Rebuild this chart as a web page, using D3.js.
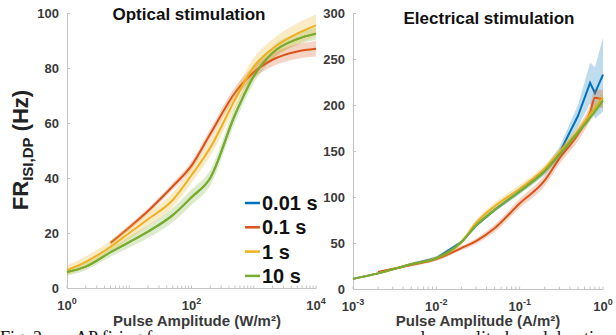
<!DOCTYPE html>
<html>
<head>
<meta charset="utf-8">
<script src="https://d3js.org/d3.v7.min.js"></script>
<style>
body { margin: 0; background: #fff; }
svg { display: block; font-family: 'Liberation Sans', Arial, sans-serif; }
.axis path, .axis line { stroke: #c4c4c4; }
.axis text { fill: #3a3a3a; font-weight: bold; font-size: 13px; }
</style>
</head>
<body>
<svg width="616" height="335"></svg>
<script>

// optical stimulation (W/m2)
var optX = [1, 2, 5, 10, 20, 50, 100, 200, 500, 1000, 2000, 5000, 10000];
var optGreen  = [5.8, 7.8, 13, 16.7, 20.5, 26.5, 33, 40, 63, 77, 85.5, 90.5, 92.5];
var optGreenE = [1.2, 1.3, 1.6, 2, 2.3, 2.6, 2.8, 2.8, 2.8, 2.5, 2.3, 2.2, 2.2];
var optYellow  = [6.5, 9.5, 15, 20, 25, 32, 41, 51, 68.5, 80.5, 87, 92.5, 95.5];
var optYellowE = [1.8, 2, 2.2, 2.3, 2.4, 2.6, 2.8, 3, 3, 3.2, 3.5, 3.8, 4];
var optOrangeX = [5, 10, 20, 50, 100, 200, 500, 1000, 2000, 5000, 10000];
var optOrange  = [16.4, 22, 28, 37, 44.5, 56, 71, 78.5, 83, 86, 87];
var optOrangeE = [0.8, 1, 1, 1.2, 1.5, 1.8, 2, 2.2, 2.4, 2.6, 2.8];

// electrical stimulation (A/m2)
var elX = [0.001, 0.002, 0.005, 0.01, 0.02, 0.03, 0.05, 0.1, 0.2, 0.3, 0.5, 0.7, 0.8, 1];
var elBlue  = [11, 17, 27, 33.5, 51, 69, 86, 106, 128, 148, 188, 224, 213, 233];
var elBlueE = [1, 1, 1.5, 2, 2, 2, 2, 3, 4, 6, 12, 22, 28, 40];
var elGreen  = [11, 17, 27, 33.5, 51, 69, 86, 106, 128, 146, 170, 186, 193, 205];
var elGreenE = [1, 1, 1.5, 2, 2, 2, 2, 2.5, 3, 3, 3.5, 4, 4, 5];
var elYellow  = [11, 17, 27, 33.5, 51, 72, 90, 109, 131, 149, 172, 190, 197, 208];
var elYellowE = [1, 1, 1.5, 2, 2.5, 3, 4, 4, 4, 4, 5, 5, 6, 7];
var elOrangeX = [0.002, 0.005, 0.01, 0.02, 0.03, 0.05, 0.1, 0.2, 0.3, 0.5, 0.7, 0.8, 1];
var elOrange  = [18.5, 26, 32.5, 44.5, 52, 66, 93, 118, 142, 168, 192, 208, 206];
var elOrangeE = [1, 1.5, 2, 2.5, 3, 4, 5, 6, 6, 7, 8, 9, 10];

var legendLabels = ["0.01 s", "0.1 s", "1 s", "10 s"];
var colors = ["#0072BD", "#D95319", "#EDB120", "#77AC30"];

var svg = d3.select("svg");

var xOpt = d3.scaleLog().domain([1, 1e4]).range([67, 316]);
var yOpt = d3.scaleLinear().domain([0, 100]).range([288, 13]);
var xEl = d3.scaleLog().domain([1e-3, 1]).range([353, 603]);
var yEl = d3.scaleLinear().domain([0, 300]).range([289, 13]);

function drawSeries(xs, ys, es, x, y, color, curve) {
  var pts = xs.map(function (d, i) { return { x: d, y: ys[i], e: es[i] }; });
  var area = d3.area()
    .x(function (d) { return x(d.x); })
    .y0(function (d) { return y(d.y - d.e); })
    .y1(function (d) { return y(d.y + d.e); })
    .curve(curve);
  var line = d3.line()
    .x(function (d) { return x(d.x); })
    .y(function (d) { return y(d.y); })
    .curve(curve);
  svg.append("path").attr("d", area(pts))
    .attr("fill", color).attr("fill-opacity", 0.25).attr("stroke", "none");
  svg.append("path").attr("d", line(pts))
    .attr("fill", "none").attr("stroke", color).attr("stroke-width", 2);
}

function pow10Label(sel) {
  sel.each(function (d) {
    var t = d3.select(this);
    var e = Math.round(Math.log10(d));
    t.text(null);
    t.append("tspan").text("10");
    t.append("tspan").attr("dy", -6).attr("font-size", 9).text(e);
  });
}

function drawAxes(x, y, yTicks) {
  var xa = svg.append("g").attr("class", "axis")
    .attr("transform", "translate(0," + y.range()[0] + ")")
    .call(d3.axisBottom(x).tickSize(0).tickPadding(0).tickFormat(function () { return ""; }));
  // minor + major inner ticks
  var allTicks = x.ticks();
  xa.selectAll("line.minor").data(allTicks).enter().append("line")
    .attr("class", "minor")
    .attr("x1", function (d) { return x(d); }).attr("x2", function (d) { return x(d); })
    .attr("y1", 0).attr("y2", -2.5);
  var majors = allTicks.filter(function (d) { return Math.abs(Math.log10(d) - Math.round(Math.log10(d))) < 1e-9; });
  var every = x === xOpt ? 2 : 1;
  majors = majors.filter(function (d) { return Math.round(Math.log10(d)) % every === 0; });
  xa.selectAll("text.lab").data(majors).enter().append("text")
    .attr("class", "lab")
    .attr("x", function (d) { return x(d); })
    .attr("y", 22)
    .attr("text-anchor", "middle")
    .call(pow10Label);

  svg.append("g").attr("class", "axis")
    .attr("transform", "translate(" + x.range()[0] + ",0)")
    .call(d3.axisLeft(y).tickValues(yTicks).tickSize(-3).tickPadding(8));
}

drawAxes(xOpt, yOpt, [0, 20, 40, 60, 80, 100]);
drawAxes(xEl, yEl, [0, 50, 100, 150, 200, 250, 300]);
svg.selectAll(".axis .domain").attr("stroke", "#c4c4c4");

// optical curves
drawSeries(optX, optGreen, optGreenE, xOpt, yOpt, colors[3], d3.curveMonotoneX);
drawSeries(optOrangeX, optOrange, optOrangeE, xOpt, yOpt, colors[1], d3.curveMonotoneX);
drawSeries(optX, optYellow, optYellowE, xOpt, yOpt, colors[2], d3.curveMonotoneX);
drawSeries(optX, optGreen, optGreenE.map(function () { return 0; }), xOpt, yOpt, colors[3], d3.curveMonotoneX);

// electrical curves
drawSeries(elX, elBlue, elBlueE, xEl, yEl, colors[0], d3.curveLinear);
drawSeries(elOrangeX, elOrange, elOrangeE, xEl, yEl, colors[1], d3.curveMonotoneX);
drawSeries(elX, elYellow, elYellowE, xEl, yEl, colors[2], d3.curveMonotoneX);
drawSeries(elX, elGreen, elGreenE, xEl, yEl, colors[3], d3.curveMonotoneX);

// titles
svg.append("text").attr("x", 189).attr("y", 20).attr("text-anchor", "middle")
  .attr("font-size", 17).attr("font-weight", "bold").attr("fill", "#111")
  .text("Optical stimulation");
svg.append("text").attr("x", 489).attr("y", 24).attr("text-anchor", "middle")
  .attr("font-size", 17).attr("font-weight", "bold").attr("fill", "#111")
  .text("Electrical stimulation");

// axis titles
svg.append("text").attr("x", 197).attr("y", 326).attr("text-anchor", "middle")
  .attr("font-size", 15).attr("font-weight", "bold").attr("fill", "#3a3a3a")
  .text("Pulse Amplitude (W/m²)");
svg.append("text").attr("x", 478).attr("y", 326).attr("text-anchor", "middle")
  .attr("font-size", 15).attr("font-weight", "bold").attr("fill", "#3a3a3a")
  .text("Pulse Amplitude (A/m²)");

var yl = svg.append("text")
  .attr("transform", "translate(28,150) rotate(-90)")
  .attr("text-anchor", "middle")
  .attr("font-size", 22).attr("font-weight", "bold").attr("fill", "#222");
yl.append("tspan").text("FR");
yl.append("tspan").attr("font-size", 15).attr("dy", 5).text("ISI,DP");
yl.append("tspan").attr("dy", -5).text(" (Hz)");

// legend
var lg = svg.append("g");
legendLabels.forEach(function (lab, i) {
  var yy = 203 + i * 24.3;
  lg.append("line").attr("x1", 245).attr("x2", 260).attr("y1", yy).attr("y2", yy)
    .attr("stroke", colors[i]).attr("stroke-width", 2.5);
  lg.append("text").attr("x", 262).attr("y", yy + 7)
    .attr("font-size", 20).attr("font-weight", "bold").attr("fill", "#111")
    .text(lab);
});

// caption (cut off at the bottom of the picture)
var cap = svg.append("g").attr("font-family", "'Liberation Serif', 'Times New Roman', serif")
  .attr("font-size", 18).attr("fill", "#111");
cap.append("text").attr("x", 0).attr("y", 344).text("Fig. 2.");
cap.append("text").attr("x", 75).attr("y", 344).text("AP firing frequency versus");
cap.append("text").attr("x", 612).attr("y", 344).attr("text-anchor", "end")
  .text("pulse amplitude and duration");

</script>
</body>
</html>
